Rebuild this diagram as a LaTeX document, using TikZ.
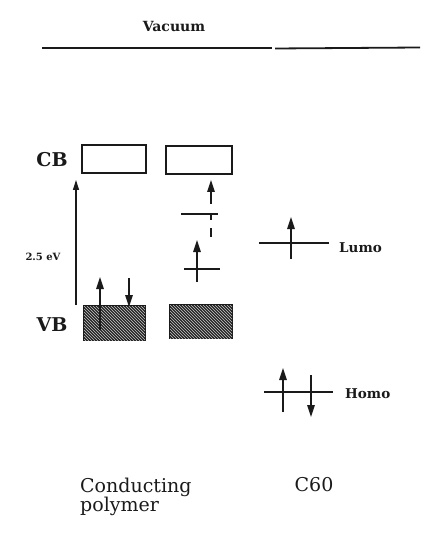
\documentclass[tikz,border=0pt]{standalone}
\usepackage{fontspec}
\setmainfont{DejaVu Serif}
\usepackage{tikz}
\usetikzlibrary{positioning,arrows.meta,patterns}
\definecolor{inkdark}{HTML}{1a1a1a}
\definecolor{vbfill}{HTML}{262626}
\definecolor{vbhatch}{HTML}{c8c8c8}
\tikzset{
  band/.style={draw=inkdark, line width=1.5pt, inner sep=0pt},
  cbband/.style={band, fill=white},
  vbband/.style={band, fill=vbfill, postaction={pattern=north west lines, pattern color=vbhatch}},
  level/.style={draw=inkdark, line width=1.4pt},
  spin/.style={-{Triangle[length=12pt,width=7.5pt]}, draw=inkdark, fill=inkdark, line width=1.6pt},
  gaparrow/.style={-{Triangle[length=10pt,width=6pt]}, draw=inkdark, line width=1.2pt},
  bandlabel/.style={font=\fontsize{19}{22}\selectfont\bfseries, text=inkdark},
  tag/.style={font=\fontsize{13.5}{16}\selectfont\bfseries, text=inkdark, anchor=west, inner sep=0pt},
  caption/.style={font=\fontsize{19}{15}\selectfont, text=inkdark, inner sep=0pt}
}

\begin{document}
\begin{tikzpicture}[x=1pt, y=-1pt]
  \useasboundingbox (0,0) rectangle (432,534);

  % ===== Vacuum level =====
  \node[font=\fontsize{14}{16}\selectfont\bfseries, text=inkdark] (vac) at (174,27) {Vacuum};
  \coordinate (vac-a) at (42,48);
  \coordinate (vac-b) at (272,48);
  \coordinate (vac-c) at (275,48.5);
  \coordinate (vac-d) at (420,47.5);
  \draw[level, line width=1.8pt] (vac-a) -- (vac-b);
  \draw[level, line width=1.8pt] (vac-c) -- (vac-d);

  % ===== Conducting polymer: bands =====
  \node[bandlabel] (cb-lab) at (52,160) {CB};
  \node[bandlabel] (vb-lab) at (52,325) {VB};
  \node[cbband, minimum width=64pt, minimum height=28pt] (cb1) at (114,159) {};
  \node[cbband, minimum width=66pt, minimum height=28pt] (cb2) at (199,160) {};
  \node[vbband, minimum width=61pt, minimum height=34pt] (vb1) at (114.5,323) {};
  \node[vbband, minimum width=62pt, minimum height=33pt] (vb2) at (201,321.5) {};

  % band gap
  \coordinate (gap-lo) at (76,305);
  \coordinate (gap-hi) at (76,180);
  \draw[gaparrow] (gap-lo) -- (gap-hi);
  \node[font=\fontsize{10}{12}\selectfont\bfseries, text=inkdark] (gap-lab) at (43,257) {2.5 eV};

  % spins in the valence band
  \coordinate (s1-lo) at (100,330);
  \coordinate (s1-hi) at (100,277);
  \coordinate (s2-hi) at (129,278);
  \coordinate (s2-lo) at (129,307);
  \draw[spin] (s1-lo) -- (s1-hi);
  \draw[spin] (s2-hi) -- (s2-lo);

  % ===== Doped polymer: gap levels =====
  \coordinate (up-l) at (181,214);
  \coordinate (up-r) at (218,214);
  \draw[level] (up-l) -- (up-r);
  \coordinate (tk-a) at (211,214);
  \coordinate (tk-b) at (211,220);
  \coordinate (ds-a) at (211,228);
  \coordinate (ds-b) at (211,237);
  \draw[level] (tk-a) -- (tk-b);
  \draw[level] (ds-a) -- (ds-b);
  \coordinate (p1-lo) at (211,204);
  \coordinate (p1-hi) at (211,180);
  \draw[spin] (p1-lo) -- (p1-hi);

  \coordinate (lw-l) at (184,269);
  \coordinate (lw-r) at (220,269);
  \draw[level] (lw-l) -- (lw-r);
  \coordinate (p2-lo) at (197,282);
  \coordinate (p2-hi) at (197,240);
  \draw[spin] (p2-lo) -- (p2-hi);

  % ===== C60: Lumo and Homo =====
  \coordinate (lumo-l) at (259,243);
  \coordinate (lumo-r) at (329,243);
  \draw[level] (lumo-l) -- (lumo-r);
  \coordinate (l1-lo) at (291,259);
  \coordinate (l1-hi) at (291,217);
  \draw[spin] (l1-lo) -- (l1-hi);
  \node[tag] (lumo-lab) at (339,248) {Lumo};

  \coordinate (homo-l) at (264,392);
  \coordinate (homo-r) at (333,392);
  \draw[level] (homo-l) -- (homo-r);
  \coordinate (h1-lo) at (283,412);
  \coordinate (h1-hi) at (283,368);
  \coordinate (h2-hi) at (311,375);
  \coordinate (h2-lo) at (311,417);
  \draw[spin] (h1-lo) -- (h1-hi);
  \draw[spin] (h2-hi) -- (h2-lo);
  \node[tag] (homo-lab) at (345,394) {Homo};

  % ===== Captions =====
  \node[caption, align=left, anchor=north west] (cp-lab) at (80,478) {Conducting\\[-1pt]polymer};
  \node[caption] (c60-lab) at (314,485) {C60};
\end{tikzpicture}
\end{document}
